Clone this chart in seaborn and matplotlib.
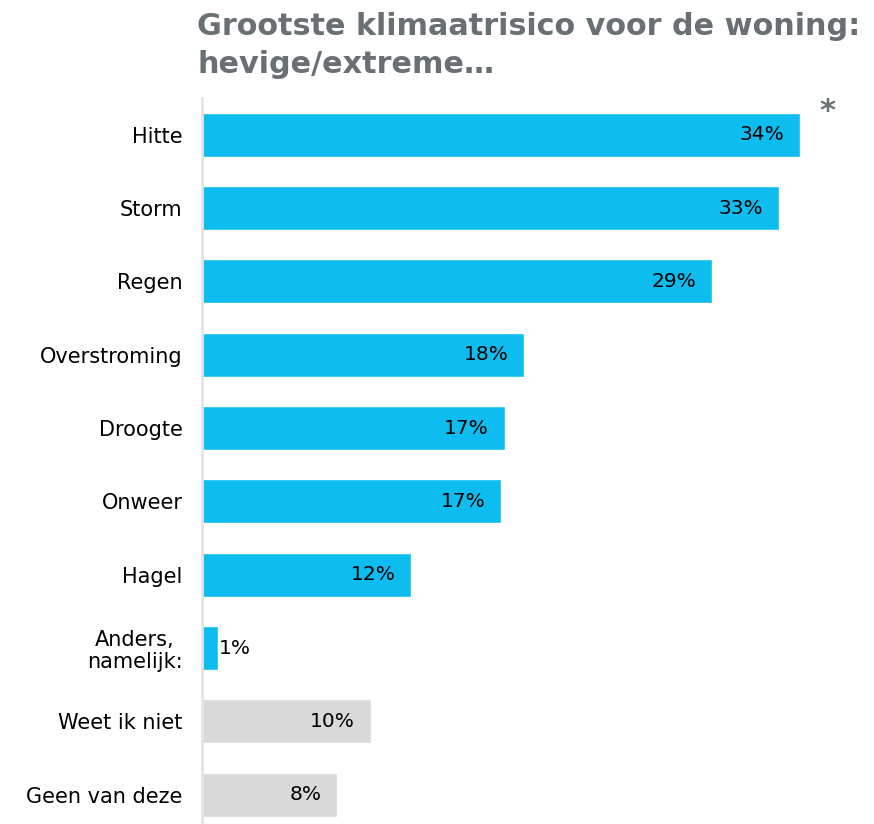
import matplotlib
matplotlib.use("Agg")
import matplotlib.pyplot as plt
import seaborn as sns
import pandas as pd

# data
categories = ["Hitte", "Storm", "Regen", "Overstroming", "Droogte", "Onweer",
              "Hagel", "Anders,\nnamelijk:", "Weet ik niet", "Geen van deze"]
values = [34.0, 32.8, 29.0, 18.3, 17.2, 17.0, 11.9, 0.9, 9.6, 7.7]
labels = ["34%", "33%", "29%", "18%", "17%", "17%", "12%", "1%", "10%", "8%"]
groups = ["risk"] * 8 + ["other"] * 2

title = "Grootste klimaatrisico voor de woning:\nhevige/extreme…"

BLUE = "#0DBDEF"
GREY = "#D9D9D9"
TITLE_COL = "#687073"

sns.set_style("white")
plt.rcParams["font.family"] = ["DejaVu Sans"]

df = pd.DataFrame({"cat": categories, "val": values, "grp": groups})

fig = plt.figure(figsize=(8.74, 8.24), dpi=100)
ax = fig.add_axes([0.2311, 0.0, 0.745, 0.881])

sns.barplot(data=df, x="val", y="cat", hue="grp", palette={"risk": BLUE, "other": GREY},
            order=categories, dodge=False, width=0.6, legend=False, ax=ax, saturation=1)

ax.set_xlim(0, 37)
ax.set_ylim(9.40, -0.5)
ax.set_xlabel("")
ax.set_ylabel("")
ax.set_xticks([])
ax.tick_params(axis="y", length=0, pad=14, labelsize=15, labelcolor="black")
for lab in ax.get_yticklabels():
    lab.set_horizontalalignment("right")
    lab.set_multialignment("center")
    lab.set_linespacing(1.15)

for s in ["top", "right", "bottom"]:
    ax.spines[s].set_visible(False)
ax.spines["left"].set_color("#E3E3E3")
ax.spines["left"].set_linewidth(2)

for i, (v, t) in enumerate(zip(values, labels)):
    if v < 3:
        ax.text(v + 0.05, i, t, ha="left", va="center", fontsize=14.5, color="black")
    else:
        ax.text(v - 0.9, i, t, ha="right", va="center", fontsize=14.5, color="black")

fig.text(197 / 874, 1 - 12 / 824, title, ha="left", va="top", fontsize=21.8,
         fontweight="bold", color=TITLE_COL, linespacing=1.4)
fig.text(827 / 874, 1 - 112 / 824, "*", ha="center", va="center", fontsize=22,
         fontweight="bold", color=TITLE_COL)

fig.savefig("out.png", dpi=100)
